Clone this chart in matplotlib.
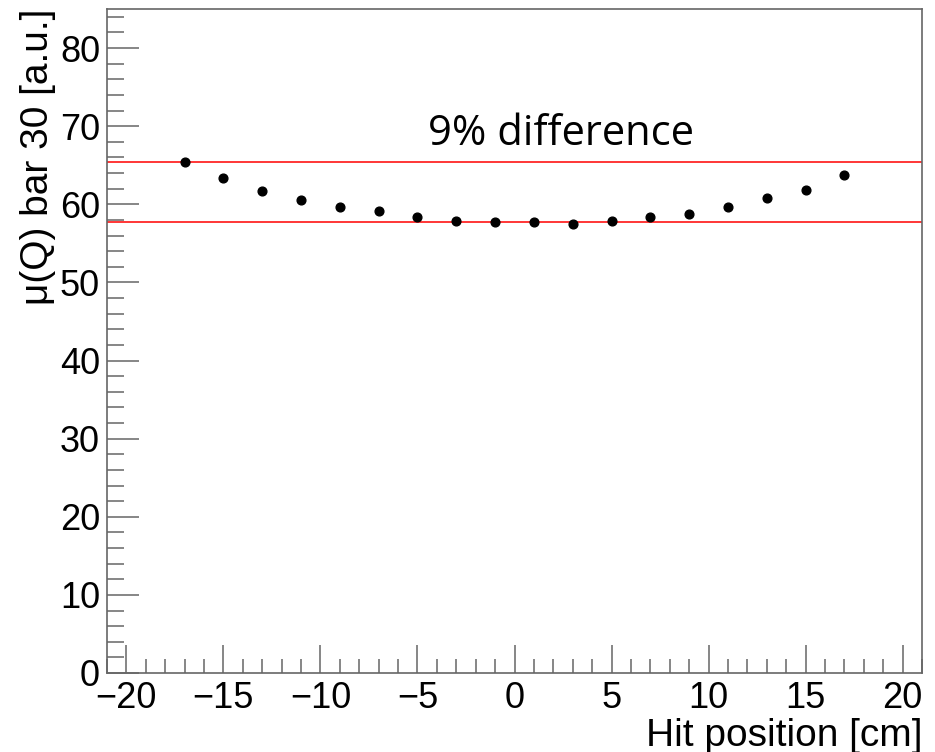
import matplotlib.pyplot as plt
from matplotlib.ticker import MultipleLocator

# hit positions along the bar [cm] and mean charge per position
hit_pos = [-17, -15, -13, -11, -9, -7, -5, -3, -1, 1, 3, 5, 7, 9, 11, 13, 15, 17]
mean_q = [65.4, 63.4, 61.7, 60.6, 59.6, 59.1, 58.4, 57.9, 57.7,
          57.7, 57.5, 57.9, 58.4, 58.8, 59.6, 60.8, 61.8, 63.8]

# reference lines marking the spread
upper_level = 65.4
lower_level = 57.7
note = "9% difference"

fig = plt.figure(figsize=(9.35, 7.52), dpi=100)
ax = fig.add_axes([107 / 935, 1 - 673 / 752, (922 - 107) / 935, (673 - 9) / 752])

ax.plot(hit_pos, mean_q, 'o', color='black', markersize=6.3, zorder=3)
ax.axhline(upper_level, color='red', linewidth=1.1)
ax.axhline(lower_level, color='red', linewidth=1.1)

ax.set_xlim(-21, 21)
ax.set_ylim(0, 85)

ax.xaxis.set_major_locator(MultipleLocator(5))
ax.xaxis.set_minor_locator(MultipleLocator(1))
ax.yaxis.set_major_locator(MultipleLocator(10))
ax.yaxis.set_minor_locator(MultipleLocator(2))

frame_col = '#666666'
for side in ax.spines.values():
    side.set_color(frame_col)
    side.set_linewidth(1.2)

ax.tick_params(which='both', direction='in', top=False, right=False,
               color=frame_col, width=1.1, labelsize=26,
               labelfontfamily='Liberation Sans')
ax.tick_params(which='major', length=20, pad=6)
ax.tick_params(which='minor', length=10)
ax.tick_params(axis='y', which='major', length=23, pad=5)
ax.tick_params(axis='y', which='minor', length=12)

ax.set_xlabel('Hit position [cm]', fontsize=28, family='Liberation Sans',
              loc='right', labelpad=1)
ax.set_ylabel('μ(Q) bar 30 [a.u.]', fontsize=28, family='Liberation Sans',
              loc='top', labelpad=3)

ax.text(2.4, 66.3, note, fontsize=30, family='Open Sans', ha='center',
        va='bottom')

fig.savefig('out.png', dpi=100)
